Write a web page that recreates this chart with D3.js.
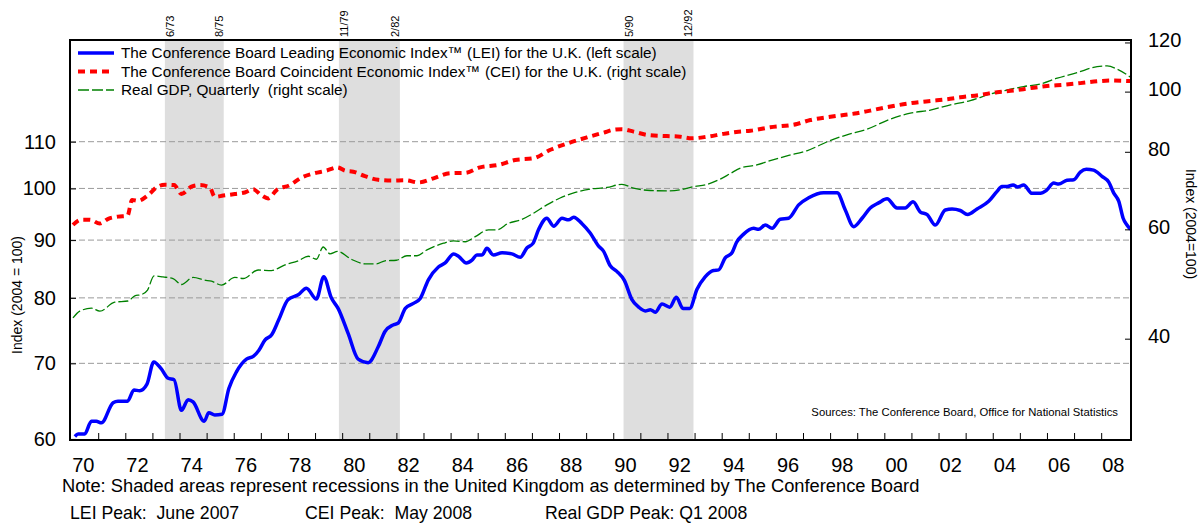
<!DOCTYPE html>
<html>
<head>
<meta charset="utf-8">
<script src="https://cdn.jsdelivr.net/npm/d3@7"></script>
<style>
  body { margin: 0; background: #fff; }
  svg { display: block; font-family: "Liberation Sans", Arial, sans-serif; }
</style>
</head>
<body>
<div id="canvas"></div>
<script>
// --- data: [year, index]
var lei = [[1970.14,60.3],[1970.26,60.6],[1970.5,60.6],[1970.75,62.2],[1970.93,62.2],[1971.12,62.0],[1971.55,64.6],[1971.73,64.8],[1972.08,64.8],[1972.32,66.3],[1972.53,66.2],[1972.8,67.1],[1973.05,70.2],[1973.33,69.2],[1973.58,67.9],[1973.8,67.7],[1974.07,63.6],[1974.32,65.0],[1974.5,64.7],[1974.91,62.2],[1975.08,63.3],[1975.3,63.0],[1975.57,63.1],[1975.82,66.5],[1976.1,68.8],[1976.47,70.6],[1976.72,71.0],[1976.93,71.9],[1977.15,73.4],[1977.4,74.2],[1977.66,76.5],[1978.0,79.7],[1978.38,80.5],[1978.68,81.6],[1979.05,79.8],[1979.32,83.5],[1979.6,80.0],[1979.85,78.3],[1980.22,74.4],[1980.59,70.6],[1980.96,70.1],[1981.33,72.4],[1981.58,74.7],[1981.88,75.7],[1982.07,76.0],[1982.33,78.3],[1982.63,79.1],[1982.88,79.9],[1983.18,83.0],[1983.55,85.2],[1983.8,85.9],[1984.11,87.5],[1984.29,87.1],[1984.58,85.9],[1984.79,86.4],[1984.97,87.3],[1985.16,87.3],[1985.34,88.5],[1985.58,87.3],[1985.9,87.7],[1986.26,87.5],[1986.57,86.9],[1986.82,88.6],[1987.04,89.4],[1987.25,92.0],[1987.55,94.1],[1987.8,92.6],[1988.11,94.1],[1988.35,93.8],[1988.54,94.3],[1988.84,93.1],[1989.15,91.3],[1989.46,88.9],[1989.64,88.0],[1989.89,85.4],[1990.14,84.4],[1990.41,82.9],[1990.69,79.7],[1990.94,78.5],[1991.18,77.9],[1991.37,78.1],[1991.55,77.7],[1991.8,79.0],[1992.08,78.5],[1992.33,80.1],[1992.57,78.3],[1992.82,78.3],[1993.09,81.4],[1993.39,83.5],[1993.7,84.6],[1993.89,84.7],[1994.13,86.8],[1994.38,87.7],[1994.55,89.6],[1994.81,91.1],[1995.18,92.2],[1995.36,92.0],[1995.61,92.8],[1995.86,92.2],[1996.16,93.9],[1996.47,94.1],[1996.84,96.7],[1997.21,98.1],[1997.76,99.1],[1998.26,99.1],[1998.56,95.7],[1998.87,92.5],[1999.18,94.1],[1999.48,96.1],[1999.79,97.1],[2000.1,97.9],[2000.47,96.1],[2000.77,96.1],[2001.06,97.3],[2001.33,95.3],[2001.58,94.8],[2001.88,92.8],[2002.25,95.7],[2002.5,95.9],[2002.8,95.6],[2003.07,94.8],[2003.42,95.9],[2003.85,97.4],[2004.16,99.4],[2004.34,100.4],[2004.53,100.4],[2004.75,100.7],[2004.92,100.3],[2005.14,100.7],[2005.45,99.0],[2005.76,99.0],[2005.98,99.6],[2006.25,101.1],[2006.43,100.9],[2006.74,101.7],[2006.99,101.8],[2007.23,103.4],[2007.45,104.0],[2007.72,103.8],[2008.03,102.5],[2008.28,101.3],[2008.46,99.1],[2008.65,97.4],[2008.81,94.1],[2008.95,92.8],[2009.08,92.0]];

var cei = [[1970.07,61.0],[1970.38,62.2],[1970.69,62.2],[1971.06,61.3],[1971.37,62.4],[1971.73,62.9],[1972.08,63.1],[1972.25,66.9],[1972.47,66.7],[1972.84,68.1],[1973.15,70.1],[1973.46,70.8],[1973.8,70.7],[1974.07,68.4],[1974.44,70.3],[1974.75,70.7],[1975.12,70.1],[1975.3,67.7],[1975.61,68.0],[1976.04,68.4],[1976.41,68.8],[1976.72,69.6],[1977.02,68.1],[1977.27,67.3],[1977.58,69.4],[1978.07,70.7],[1978.5,72.7],[1978.93,73.8],[1979.42,74.6],[1979.83,75.5],[1980.1,74.6],[1980.41,74.3],[1980.84,73.1],[1981.33,72.1],[1981.82,71.9],[1982.32,72.0],[1982.82,71.4],[1983.37,72.5],[1983.99,73.9],[1984.54,74.0],[1985.09,75.5],[1985.77,76.2],[1986.38,77.6],[1987.06,78.1],[1987.68,80.6],[1988.35,82.6],[1989.03,84.4],[1989.65,85.9],[1990.01,86.8],[1990.32,87.0],[1990.75,86.2],[1991.3,85.1],[1991.98,84.8],[1992.47,84.6],[1992.9,84.1],[1993.46,84.6],[1994.07,85.5],[1994.62,86.2],[1995.06,86.5],[1995.79,87.6],[1996.78,88.7],[1997.27,90.0],[1997.88,90.9],[1998.5,91.7],[1998.99,92.3],[1999.48,93.2],[2000.1,94.4],[2000.96,95.8],[2001.7,96.6],[2002.31,97.2],[2002.8,97.9],[2003.54,98.8],[2004.16,99.8],[2004.77,100.4],[2005.39,101.3],[2006.0,102.1],[2006.62,102.6],[2007.23,103.2],[2007.85,103.9],[2008.34,104.2],[2009.08,104.0]];

var gdp = [[1970.07,43.2],[1970.32,44.3],[1970.75,44.8],[1971.06,44.3],[1971.61,45.8],[1972.1,46.0],[1972.35,46.9],[1972.59,47.1],[1972.82,47.9],[1973.06,50.5],[1973.39,50.3],[1973.76,50.0],[1974.07,48.9],[1974.5,50.2],[1974.93,49.7],[1975.18,49.5],[1975.55,48.8],[1976.04,50.2],[1976.35,50.0],[1976.9,51.6],[1977.39,51.5],[1977.89,52.6],[1978.38,53.4],[1978.75,54.3],[1979.05,53.7],[1979.3,56.2],[1979.55,54.8],[1979.83,55.3],[1980.34,53.7],[1980.84,52.8],[1981.27,52.8],[1981.58,53.4],[1982.0,53.5],[1982.39,54.4],[1982.76,54.4],[1983.13,55.6],[1983.74,57.0],[1984.11,57.5],[1984.54,57.3],[1984.91,58.4],[1985.4,59.9],[1985.71,59.9],[1986.14,61.4],[1986.57,62.1],[1987.06,63.7],[1987.55,65.7],[1988.04,67.4],[1988.6,68.8],[1989.09,69.6],[1989.77,70.1],[1990.32,70.9],[1990.75,69.9],[1991.37,69.3],[1991.98,69.2],[1992.47,69.5],[1992.96,70.3],[1993.46,70.9],[1993.95,72.3],[1994.32,73.8],[1994.69,75.3],[1995.3,76.2],[1995.79,77.4],[1996.41,78.8],[1997.14,80.3],[1998.0,83.4],[1998.62,85.2],[1999.36,87.0],[2000.22,90.3],[2000.96,92.3],[2001.7,93.4],[2002.44,95.2],[2003.17,96.7],[2003.91,99.1],[2004.53,100.6],[2005.14,101.9],[2005.76,102.9],[2006.38,105.1],[2007.11,107.3],[2007.85,109.7],[2008.22,110.0],[2008.59,108.7],[2009.08,105.5]];

// recessions (mid-month)
var recStart = [1973.46, 1979.88, 1990.38];
var recEnd = [1975.63, 1982.13, 1992.96];
var recStartLabel = ['6/73', '11/79', '5/90'];
var recEndLabel = ['8/75', '2/82', '12/92'];

var leftTicks = [60, 70, 80, 90, 100, 110];
var gridTicks = [70, 80, 90, 100, 110];
var rightTicks = [40, 60, 80, 100, 120];
var yearTicks = d3.range(1971, 2009);
var yearLabels = d3.range(1970, 2009, 2);

var legendLabels = [
  'The Conference Board Leading Economic Index\u2122 (LEI) for the U.K. (left scale)',
  'The Conference Board Coincident Economic Index\u2122 (CEI) for the U.K. (right scale)',
  'Real GDP, Quarterly  (right scale)'
];

// --- layout
var W = 1204, H = 523;
var M = {top: 40, right: 73, bottom: 83, left: 70};
var w = W - M.left - M.right,
    h = H - M.top - M.bottom;

var svg = d3.select('#canvas')
  .append('svg')
  .attr('width', W)
  .attr('height', H);

var plot = svg.append('g')
  .attr('transform', 'translate(' + M.left + ',' + M.top + ')');

// --- scales
var x = d3.scaleLinear().domain([1969.96, 2009.1]).range([0, w]);
var yL = d3.scaleLog().domain([59.87, 135.35]).range([h, 0]);
var yR = d3.scaleLog().domain([27.47, 121.1]).range([h, 0]);

// --- recession shading
recStart.forEach(function(s, i) {
  plot.append('rect')
    .attr('x', x(s))
    .attr('y', 0)
    .attr('width', x(recEnd[i]) - x(s))
    .attr('height', h)
    .attr('fill', '#dedede');

  svg.append('text')
    .attr('transform', 'translate(' + (M.left + x(s) + 9) + ',37) rotate(-90)')
    .attr('font-size', 11)
    .text(recStartLabel[i]);
  svg.append('text')
    .attr('transform', 'translate(' + (M.left + x(recEnd[i]) - 1) + ',37) rotate(-90)')
    .attr('font-size', 11)
    .text(recEndLabel[i]);
});

// --- gridlines
plot.selectAll('.grid')
  .data(gridTicks)
  .enter().append('line')
  .attr('x1', 0).attr('x2', w)
  .attr('y1', function(d){ return yL(d); })
  .attr('y2', function(d){ return yL(d); })
  .attr('stroke', '#9a9a9a')
  .attr('stroke-width', 1)
  .attr('stroke-dasharray', '6,3');

// --- lines
var lineL = d3.line()
  .x(function(d){ return x(d[0]); })
  .y(function(d){ return yL(d[1]); })
  .curve(d3.curveMonotoneX);
var lineR = d3.line()
  .x(function(d){ return x(d[0]); })
  .y(function(d){ return yR(d[1]); })
  .curve(d3.curveMonotoneX);

plot.append('path')
  .attr('d', lineR(gdp))
  .attr('fill', 'none')
  .attr('stroke', '#008000')
  .attr('stroke-width', 1.3)
  .attr('stroke-dasharray', '10,3');

plot.append('path')
  .attr('d', lineR(cei))
  .attr('fill', 'none')
  .attr('stroke', '#ff0000')
  .attr('stroke-width', 4)
  .attr('stroke-dasharray', '7,5');

plot.append('path')
  .attr('d', lineL(lei))
  .attr('fill', 'none')
  .attr('stroke', '#0000ff')
  .attr('stroke-width', 3.5)
  .attr('stroke-linejoin', 'round');

// --- frame
plot.append('rect')
  .attr('x', 0).attr('y', 0)
  .attr('width', w).attr('height', h)
  .attr('fill', 'none')
  .attr('stroke', '#000')
  .attr('stroke-width', 2);

// --- axes (ticks inward)
var axL = d3.axisLeft(yL).tickValues(leftTicks).tickSizeInner(-6).tickSizeOuter(0).tickPadding(14)
  .tickFormat(d3.format('d'));
var gL = plot.append('g').call(axL);

var axR = d3.axisRight(yR).tickValues(rightTicks).tickSizeInner(-6).tickSizeOuter(0).tickPadding(17)
  .tickFormat(d3.format('d'));
var gR = plot.append('g').attr('transform', 'translate(' + w + ',0)').call(axR);

var axB = d3.axisBottom(x).tickValues(yearTicks).tickSizeInner(-7).tickSizeOuter(0).tickFormat('');
var gB = plot.append('g').attr('transform', 'translate(0,' + h + ')').call(axB);

[gL, gR, gB].forEach(function(g){
  g.select('.domain').remove();
  g.selectAll('line').attr('stroke', '#000');
  g.selectAll('text')
    .attr('font-family', '"Liberation Sans", Arial, sans-serif')
    .attr('font-size', 20)
    .attr('fill', '#000');
});
gR.selectAll('.tick text').attr('dy', '0.2em');

// year labels centred in their year
plot.selectAll('.ylab')
  .data(yearLabels)
  .enter().append('text')
  .attr('x', function(d){ return x(d + 0.45); })
  .attr('y', h + 32)
  .attr('text-anchor', 'middle')
  .attr('font-size', 20)
  .text(function(d){ return d3.format('02d')(d % 100); });

// --- axis titles
svg.append('text')
  .attr('transform', 'translate(22,295) rotate(-90)')
  .attr('text-anchor', 'middle')
  .attr('font-size', 14)
  .text('Index (2004 = 100)');

svg.append('text')
  .attr('transform', 'translate(1186,224) rotate(90)')
  .attr('text-anchor', 'middle')
  .attr('font-size', 14)
  .text('Index (2004=100)');

// --- legend
var legStyles = [
  {c: '#0000ff', wd: 3.5, dash: null},
  {c: '#ff0000', wd: 4, dash: '7,5'},
  {c: '#008000', wd: 1.3, dash: '11,3'}
];
legendLabels.forEach(function(t, i) {
  var yy = 13 + i * 18.5;
  var s = legStyles[i];
  plot.append('line')
    .attr('x1', 8).attr('x2', 44)
    .attr('y1', yy).attr('y2', yy)
    .attr('stroke', s.c)
    .attr('stroke-width', s.wd)
    .attr('stroke-dasharray', s.dash);
  plot.append('text')
    .attr('x', 51)
    .attr('y', yy + 5)
    .attr('font-size', 15.3)
    .attr('xml:space', 'preserve')
    .style('white-space', 'pre')
    .text(t);
});

// --- source
plot.append('text')
  .attr('x', w - 13)
  .attr('y', 376)
  .attr('text-anchor', 'end')
  .attr('font-size', 11.3)
  .text('Sources: The Conference Board, Office for National Statistics');

// --- footnotes
svg.append('text')
  .attr('x', 62).attr('y', 492)
  .attr('font-size', 18.3)
  .text('Note: Shaded areas represent recessions in the United Kingdom as determined by The Conference Board');

var peaks = ['LEI Peak:  June 2007', 'CEI Peak:  May 2008', 'Real GDP Peak: Q1 2008'];
var peakX = [70, 305, 545];
peaks.forEach(function(p, i) {
  svg.append('text')
    .attr('x', peakX[i]).attr('y', 519)
    .attr('font-size', 17.7)
    .attr('xml:space', 'preserve')
    .style('white-space', 'pre')
    .text(p);
});
</script>
</body>
</html>
